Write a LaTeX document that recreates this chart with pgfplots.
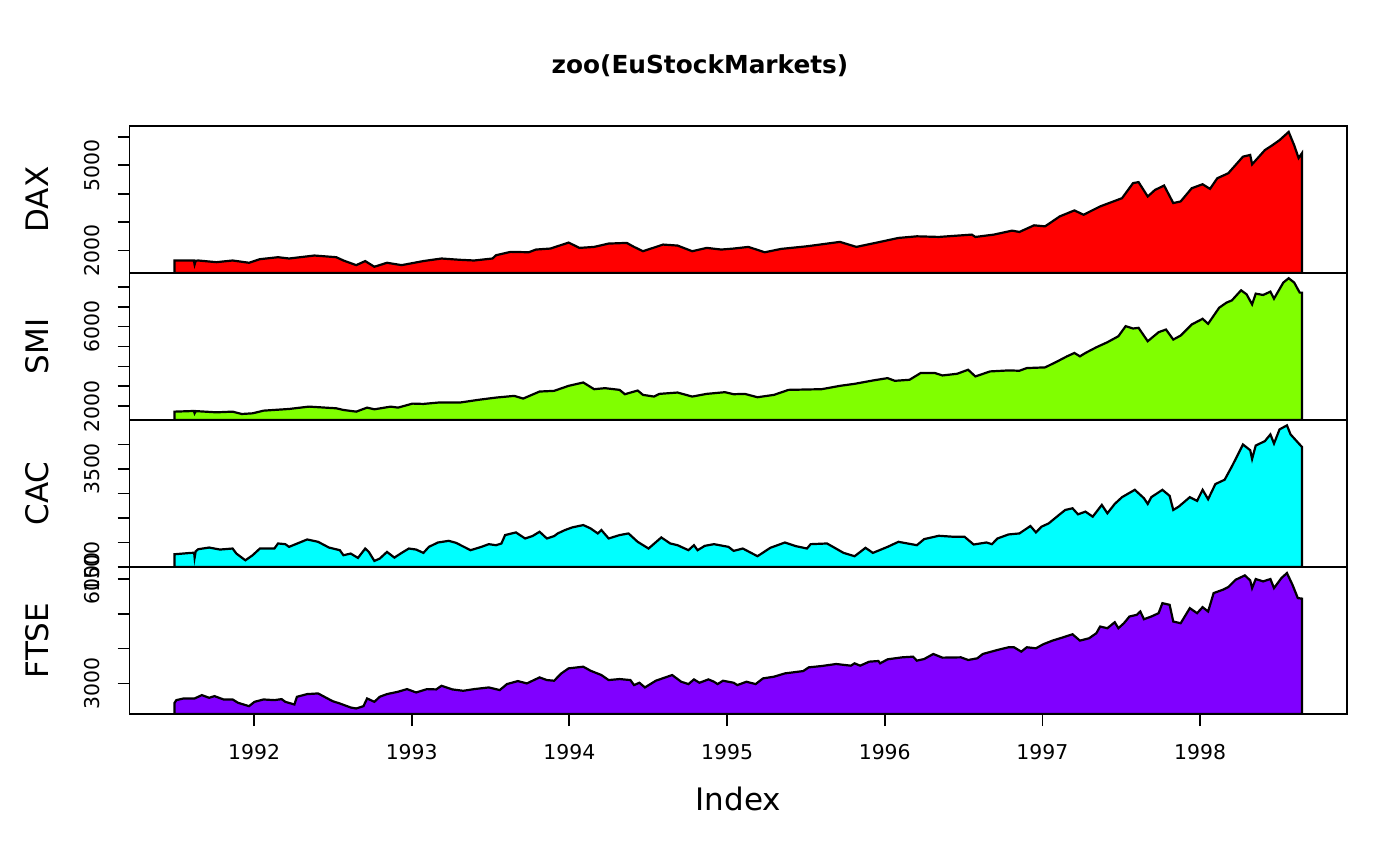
\documentclass[border=0pt]{standalone}
\usepackage{pgfplots}
\pgfplotsset{compat=1.18}
\usepackage{fontspec}
\setmainfont{DejaVu Sans}
\definecolor{cDAX}{HTML}{FF0000}
\definecolor{cSMI}{HTML}{80FF00}
\definecolor{cCAC}{HTML}{00FFFF}
\definecolor{cFTSE}{HTML}{8000FF}
\newcommand{\tickfont}{\fontsize{10.2}{12}\selectfont}
\newcommand{\labfont}{\fontsize{15.5}{18}\selectfont}
\pgfplotsset{panel/.style={
  scale only axis, width=608.75pt, height=73.5pt,
  xmin=1991.210, xmax=1998.932,
  axis line style={line width=0.9pt},
  tick style={line width=0.9pt, black},
  tick align=outside, major tick length=6pt,
  ytick pos=left, xtick pos=bottom,
  yticklabel style={xshift=-9pt, rotate=90, anchor=base, inner sep=0pt, font=\tickfont},
  xticklabel style={yshift=-16.5pt, anchor=base, inner sep=0pt, font=\tickfont},
  scaled y ticks=false, scaled x ticks=false,
  clip=true, anchor=north west,
  },
  series/.style={draw=black, line width=1.1pt, fill=#1}}
\begin{document}
\begin{tikzpicture}
\useasboundingbox (-64.75pt,-370pt) rectangle (635.25pt,63pt);
% DAX
\begin{axis}[panel, name=p1, at={(0,0)}, ymin=1211, ymax=6377.4,
  ytick={2000,3000,4000,5000,6000}, yticklabels={2000,,,5000,}, xtick=\empty]
\addplot[series=cDAX] coordinates {
(1991.496,1650)(1991.618,1650)(1991.623,1510)(1991.630,1640)(1991.646,1650)(1991.761,1591)
(1991.864,1650)(1991.968,1570)(1992.037,1696)(1992.152,1766)(1992.222,1720)(1992.383,1825)
(1992.521,1766)(1992.567,1650)(1992.648,1487)(1992.705,1630)(1992.763,1430)(1992.843,1570)
(1992.936,1487)(1993.074,1630)(1993.189,1720)(1993.304,1675)(1993.396,1650)(1993.512,1720)
(1993.535,1836)(1993.627,1953)(1993.742,1940)(1993.788,2035)(1993.880,2070)(1993.995,2280)
(1994.064,2093)(1994.157,2128)(1994.249,2245)(1994.364,2268)(1994.410,2128)(1994.467,1976)
(1994.594,2210)(1994.686,2175)(1994.779,1976)(1994.871,2093)(1994.963,2035)
(1995.042,2070)(1995.135,2128)(1995.239,1940)(1995.344,2058)(1995.507,2150)(1995.716,2304)
(1995.820,2128)(1995.971,2304)(1996.087,2443)(1996.204,2500)(1996.343,2478)(1996.552,2560)
(1996.575,2478)(1996.692,2560)(1996.808,2700)(1996.854,2653)(1996.947,2886)(1997.017,2850)
(1997.110,3200)(1997.203,3410)(1997.261,3258)(1997.366,3550)(1997.505,3840)(1997.575,4370)
(1997.610,4405)(1997.668,3900)(1997.714,4130)(1997.772,4285)(1997.830,3668)(1997.877,3726)
(1997.947,4190)(1998.016,4330)(1998.063,4168)(1998.109,4540)(1998.179,4717)(1998.272,5300)
(1998.318,5360)(1998.330,5030)(1998.411,5530)(1998.458,5700)(1998.504,5880)(1998.562,6170)
(1998.597,5700)(1998.625,5250)(1998.646,5420)
} \closedcycle;
\end{axis}
% SMI
\begin{axis}[panel, name=p2, at={(0,-73.5pt)}, ymin=1314.4, ymax=8685,
  ytick={2000,3000,4000,5000,6000,7000,8000}, yticklabels={2000,,,,6000,,}, xtick=\empty]
\addplot[series=cSMI] coordinates {
(1991.496,1733)(1991.618,1766)(1991.623,1650)(1991.630,1760)(1991.761,1699)(1991.864,1733)
(1991.922,1615)(1991.991,1649)(1992.060,1783)(1992.222,1867)(1992.348,1985)(1992.521,1901)
(1992.567,1817)(1992.648,1733)(1992.717,1935)(1992.763,1850)(1992.867,1985)(1992.913,1935)
(1993.005,2136)(1993.074,2120)(1993.166,2187)(1993.304,2187)(1993.419,2321)(1993.535,2439)
(1993.650,2523)(1993.707,2389)(1993.811,2741)(1993.903,2775)(1993.995,3027)(1994.088,3195)
(1994.157,2859)(1994.226,2910)(1994.318,2825)(1994.352,2607)(1994.433,2792)(1994.467,2573)
(1994.537,2489)(1994.571,2624)(1994.686,2691)(1994.779,2489)(1994.871,2624)(1994.986,2709)
(1995.042,2607)(1995.112,2624)(1995.193,2456)(1995.297,2573)(1995.390,2825)(1995.600,2859)
(1995.716,3027)(1995.809,3128)(1995.925,3296)(1996.018,3414)(1996.064,3279)(1996.157,3330)
(1996.227,3666)(1996.320,3666)(1996.366,3548)(1996.459,3632)(1996.529,3834)(1996.575,3498)
(1996.668,3750)(1996.785,3800)(1996.854,3784)(1996.901,3918)(1997.017,3952)(1997.087,4221)
(1997.156,4506)(1997.203,4675)(1997.238,4506)(1997.273,4675)(1997.342,4960)(1997.412,5213)
(1997.482,5515)(1997.528,6019)(1997.575,5902)(1997.610,5935)(1997.668,5263)(1997.737,5717)
(1997.784,5851)(1997.830,5347)(1997.877,5549)(1997.947,6103)(1998.016,6389)(1998.051,6137)
(1998.121,6944)(1998.167,7196)(1998.202,7314)(1998.260,7818)(1998.295,7616)(1998.330,7112)
(1998.353,7650)(1998.400,7583)(1998.446,7751)(1998.469,7398)(1998.528,8205)(1998.562,8423)
(1998.597,8205)(1998.632,7700)(1998.646,7700)
} \closedcycle;
\end{axis}
% CAC
\begin{axis}[panel, name=p3, at={(0,-147pt)}, ymin=1499.9, ymax=4499.6,
  ytick={1500,2000,2500,3000,3500,4000}, yticklabels={1500,,,,3500,}, xtick=\empty]
\addplot[series=cCAC] coordinates {
(1991.496,1760)(1991.600,1788)(1991.620,1790)(1991.623,1692)(1991.630,1820)(1991.646,1863)
(1991.715,1897)(1991.784,1856)(1991.864,1877)(1991.888,1774)(1991.945,1637)(1991.991,1740)
(1992.037,1877)(1992.129,1877)(1992.152,1980)(1992.198,1966)(1992.222,1911)(1992.337,2062)
(1992.406,2014)(1992.475,1897)(1992.544,1843)(1992.567,1740)(1992.613,1774)(1992.659,1685)
(1992.705,1877)(1992.728,1808)(1992.763,1624)(1992.797,1671)(1992.843,1808)(1992.890,1692)
(1992.936,1788)(1992.982,1877)(1993.028,1856)(1993.074,1788)(1993.109,1911)(1993.166,2000)
(1993.235,2034)(1993.281,1993)(1993.373,1843)(1993.442,1911)(1993.489,1966)(1993.535,1945)
(1993.569,1980)(1993.592,2151)(1993.661,2206)(1993.719,2082)(1993.765,2130)(1993.811,2219)
(1993.857,2082)(1993.903,2130)(1993.926,2185)(1993.972,2254)(1994.018,2308)(1994.088,2356)
(1994.134,2288)(1994.180,2185)(1994.203,2254)(1994.249,2082)(1994.318,2151)(1994.375,2185)
(1994.433,2014)(1994.502,1877)(1994.583,2103)(1994.640,1980)(1994.686,1945)(1994.755,1843)
(1994.790,1945)(1994.813,1843)(1994.859,1932)(1994.917,1966)(1995.009,1911)
(1995.042,1829)(1995.100,1877)(1995.193,1720)(1995.274,1891)(1995.367,2000)(1995.437,1925)
(1995.507,1877)(1995.530,1966)(1995.634,1980)(1995.739,1788)(1995.809,1720)(1995.878,1891)
(1995.925,1788)(1996.018,1911)(1996.087,2014)(1996.204,1945)(1996.250,2069)(1996.343,2137)
(1996.436,2117)(1996.506,2117)(1996.564,1959)(1996.645,2000)(1996.680,1966)(1996.715,2082)
(1996.785,2164)(1996.854,2185)(1996.924,2336)(1996.959,2206)(1996.994,2322)(1997.040,2390)
(1997.110,2575)(1997.145,2664)(1997.191,2698)(1997.226,2575)(1997.273,2630)(1997.319,2527)
(1997.377,2767)(1997.412,2596)(1997.459,2788)(1997.505,2925)(1997.586,3075)(1997.644,2904)
(1997.668,2788)(1997.691,2925)(1997.761,3075)(1997.807,2952)(1997.830,2664)(1997.865,2733)
(1997.935,2925)(1997.981,2849)(1998.016,3075)(1998.051,2883)(1998.097,3192)(1998.156,3281)
(1998.202,3554)(1998.226,3705)(1998.272,4000)(1998.318,3883)(1998.330,3705)(1998.353,3979)
(1998.411,4068)(1998.446,4205)(1998.469,4020)(1998.504,4308)(1998.551,4390)(1998.574,4205)
(1998.632,4000)(1998.646,3950)
} \closedcycle;
\end{axis}
% FTSE
\begin{axis}[panel, name=p4, at={(0,-220.5pt)}, ymin=2125, ymax=6335,
  ytick={3000,4000,5000,6000}, yticklabels={3000,,,6000},
  xtick={1992,1993,1994,1995,1996,1997,1998},
  xticklabels={1992,1993,1994,1995,1996,1997,1998}]
\addplot[series=cFTSE] coordinates {
(1991.496,2445)(1991.507,2522)(1991.553,2570)(1991.623,2570)(1991.669,2666)(1991.715,2589)
(1991.749,2637)(1991.807,2541)(1991.864,2541)(1991.899,2445)(1991.968,2350)(1992.003,2474)
(1992.060,2541)(1992.129,2522)(1992.175,2551)(1992.198,2474)(1992.256,2397)(1992.272,2618)
(1992.337,2695)(1992.406,2714)(1992.498,2493)(1992.544,2426)(1992.613,2311)(1992.648,2283)
(1992.694,2350)(1992.717,2570)(1992.763,2474)(1992.797,2618)(1992.843,2695)(1992.913,2762)
(1992.970,2838)(1993.028,2742)(1993.097,2838)(1993.155,2829)(1993.189,2934)(1993.258,2829)
(1993.327,2790)(1993.396,2838)(1993.489,2886)(1993.558,2810)(1993.604,2982)(1993.673,3068)
(1993.730,3001)(1993.811,3173)(1993.857,3097)(1993.903,3078)(1993.949,3288)(1993.995,3432)
(1994.088,3480)(1994.134,3365)(1994.203,3241)(1994.249,3097)(1994.318,3126)(1994.387,3097)
(1994.410,2953)(1994.444,3020)(1994.479,2886)(1994.548,3078)(1994.652,3241)(1994.709,3049)
(1994.755,2982)(1994.790,3116)(1994.825,3020)(1994.882,3116)(1994.917,3049)(1994.940,2982)
(1994.974,3078)
(1995.042,3020)(1995.065,2953)(1995.123,3049)(1995.181,2982)(1995.228,3145)(1995.297,3193)
(1995.367,3288)(1995.483,3355)(1995.518,3461)(1995.600,3499)(1995.692,3557)(1995.785,3509)
(1995.809,3576)(1995.844,3509)(1995.902,3624)(1995.960,3643)(1995.971,3576)(1996.018,3691)
(1996.111,3748)(1996.180,3767)(1996.204,3653)(1996.250,3700)(1996.308,3844)(1996.366,3739)
(1996.483,3748)(1996.529,3672)(1996.587,3720)(1996.622,3844)(1996.715,3959)(1996.785,4036)
(1996.820,4036)(1996.866,3911)(1996.901,4036)(1996.959,4007)(1997.005,4122)(1997.064,4227)
(1997.133,4323)(1997.191,4409)(1997.238,4227)(1997.296,4294)(1997.342,4438)(1997.366,4630)
(1997.412,4582)(1997.459,4754)(1997.482,4582)(1997.517,4725)(1997.552,4917)(1997.598,4965)
(1997.621,5061)(1997.644,4840)(1997.691,4917)(1997.737,5013)(1997.761,5300)(1997.807,5252)
(1997.830,4773)(1997.877,4725)(1997.935,5157)(1997.981,5013)(1998.016,5185)(1998.051,5061)
(1998.086,5588)(1998.144,5683)(1998.179,5760)(1998.226,5971)(1998.284,6095)(1998.318,5952)
(1998.330,5731)(1998.353,5990)(1998.400,5923)(1998.446,5990)(1998.469,5731)(1998.516,6019)
(1998.551,6162)(1998.586,5827)(1998.620,5444)(1998.646,5430)
} \closedcycle;
\end{axis}
\node[anchor=base, font=\fontsize{12.4}{14}\selectfont\bfseries] at ([xshift=285.25pt,yshift=26.35pt]p1.north west) {zoo(EuStockMarkets)};
\node[rotate=90, anchor=base, font=\labfont] at ([xshift=-40.25pt]p1.west) {DAX};
\node[rotate=90, anchor=base, font=\labfont] at ([xshift=-40.25pt]p2.west) {SMI};
\node[rotate=90, anchor=base, font=\labfont] at ([xshift=-40.25pt]p3.west) {CAC};
\node[rotate=90, anchor=base, font=\labfont] at ([xshift=-40.25pt]p4.west) {FTSE};
\node[anchor=base, font=\labfont] at ([yshift=-48pt]p4.south) {Index};
\end{tikzpicture}
\end{document}
